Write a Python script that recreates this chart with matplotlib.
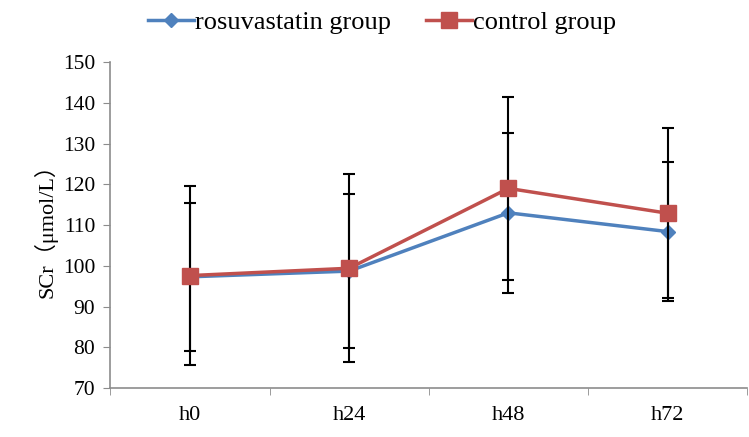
import matplotlib
matplotlib.use("Agg")
import matplotlib.pyplot as plt
from matplotlib.lines import Line2D
from matplotlib.ticker import FixedLocator, MultipleLocator

plt.rcParams['font.family'] = ['Liberation Serif', 'Noto Sans CJK SC', 'DejaVu Sans']

# dados
times = ["h0", "h24", "h48", "h72"]
rosu_mean = [97.3, 98.7, 113.0, 108.4]
rosu_sd = [18.2, 18.8, 19.6, 17.1]
ctrl_mean = [97.6, 99.4, 119.0, 112.9]
ctrl_sd = [22.0, 23.1, 22.5, 20.8]

blue = "#4F81BD"
red = "#C0504D"
axis_gray = "#8C8C8C"

fig = plt.figure(figsize=(7.49, 4.37), dpi=100)
ax = fig.add_axes([0.1475, 0.112, 0.85, 0.746])

x = list(range(len(times)))

ax.errorbar(x, rosu_mean, yerr=rosu_sd, color=blue, lw=2.5, marker="D", ms=7.5,
            mfc=blue, mec=blue, ecolor="black", elinewidth=1.5, capsize=4,
            capthick=1.5, zorder=3)
ax.errorbar(x, ctrl_mean, yerr=ctrl_sd, color=red, lw=2.5, marker="s", ms=11,
            mfc=red, mec=red, ecolor="black", elinewidth=1.5, capsize=4,
            capthick=1.5, zorder=4)

ax.set_xlim(-0.5, len(times) - 0.5)
ax.set_ylim(70, 150)
ax.yaxis.set_major_locator(MultipleLocator(10))
ax.set_xticks(x)
ax.set_xticklabels(times, fontsize=16)
ax.tick_params(axis="x", length=0, pad=13)
ax.xaxis.set_minor_locator(FixedLocator([i - 0.5 for i in range(len(times) + 1)]))
ax.tick_params(axis="x", which="minor", length=5, color=axis_gray)
ax.tick_params(axis="y", length=5, color=axis_gray, labelsize=15.5, pad=6)

for side in ["top", "right"]:
    ax.spines[side].set_visible(False)
for side in ["left", "bottom"]:
    ax.spines[side].set_color(axis_gray)
    ax.spines[side].set_linewidth(1.2)

ax.set_ylabel("SCr（μmol/L）", fontsize=16, labelpad=4)

handles = [
    Line2D([], [], color=blue, lw=2.5, marker="D", ms=7.5),
    Line2D([], [], color=red, lw=2.5, marker="s", ms=11),
]
fig.legend(handles, ["rosuvastatin group", "control group"], loc="upper center",
           bbox_to_anchor=(0.51, 1.03), ncol=2, frameon=False, fontsize=19,
           handlelength=1.75, columnspacing=1.3, handletextpad=0.05)

fig.savefig("out.png", dpi=100)
plt.close(fig)
